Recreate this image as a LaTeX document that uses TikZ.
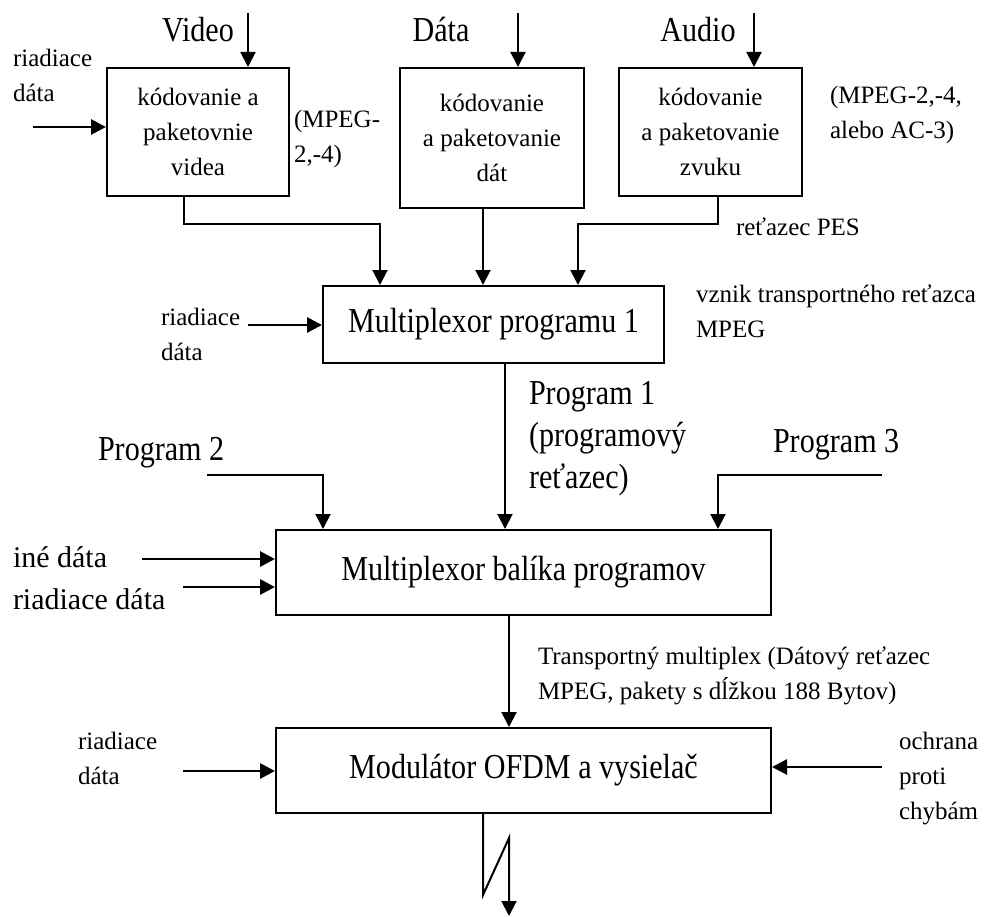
\documentclass[tikz,border=0pt]{standalone}
\usepackage{fontspec}
\setmainfont{Liberation Serif}
\newfontfamily\uzke[FakeStretch=0.86]{Liberation Serif}
\usetikzlibrary{arrows.meta}
\newcommand{\mala}{\fontsize{25}{35}\selectfont}
\newcommand{\velka}{\fontsize{30}{42}\selectfont}
\newcommand{\velkauzka}{\uzke\fontsize{35}{42}\selectfont}

\begin{document}
\begin{tikzpicture}[x=1pt,y=-1pt,line width=2pt,>={Triangle[length=15pt,width=15pt]},
  blok/.style={draw,inner sep=0pt,align=center},
  popis/.style={inner sep=0pt,align=left,anchor=west}]
\useasboundingbox (0,0) rectangle (984,917);
% \draw[help lines] (0,0) grid[step=100] (984,917);
\node (kv) [blok,minimum width=182pt,minimum height=128pt,font=\mala] at (198,132) {kódovanie a\\paketovnie\\videa};
\node (kd) [blok,minimum width=184pt,minimum height=140pt,font=\mala] at (492,138) {kódovanie\\a paketovanie\\dát};
\node (ka) [blok,minimum width=183pt,minimum height=128pt,font=\mala] at (710.5,132) {kódovanie\\a paketovanie\\zvuku};
\node (mp1) [blok,minimum width=341pt,minimum height=77pt,font=\velkauzka] at (493.5,324.5) {Multiplexor programu 1};
\node (mpb) [blok,minimum width=495pt,minimum height=85pt,font=\velkauzka] at (523.5,572.5) {Multiplexor balíka programov};
\node (mod) [blok,minimum width=495pt,minimum height=85pt,font=\velkauzka] at (523.5,770.5) {Modulátor OFDM a vysielač};
%
\node (tv) [font=\velkauzka] at (198,30) {Video};
\node (td) [font=\velkauzka] at (441,30) {Dáta};
\node (ta) [font=\velkauzka] at (698,30) {Audio};
\node (r1) [popis,font=\mala] at (12,75) {riadiace\\dáta};
\node (m1) [popis,font=\mala] at (293,139) {(MPEG-\\2,-4)};
\node (m2) [popis,font=\mala] at (829,115) {(MPEG-2,-4,\\alebo AC-3)};
\node (pes) [popis,font=\mala] at (735,227) {reťazec PES};
\node (r2) [popis,font=\mala] at (160,334) {riadiace\\dáta};
\node (vz) [popis,font=\mala] at (695,311) {vznik transportného reťazca\\MPEG};
\node (pr1) [popis,font=\velkauzka] at (528,439) {Program 1\\(programový\\reťazec)};
\node (pr2) [popis,font=\velkauzka] at (97,453) {Program 2};
\node (pr3) [popis,font=\velkauzka] at (772,445) {Program 3};
\node (ine) [popis,font=\velka] at (12,557) {iné dáta};
\node (r3) [popis,font=\velka] at (12,599) {riadiace dáta};
\node (ts) [popis,font=\mala] at (537,676) {Transportný multiplex (Dátový reťazec\\MPEG, pakety s dĺžkou 188 Bytov)};
\node (r4) [popis,font=\mala] at (77,758) {riadiace\\dáta};
\node (och) [popis,font=\mala] at (898,779) {ochrana\\proti\\chybám};
%
\coordinate (vin) at (248,13);
\coordinate (din) at (518,13);
\coordinate (ain) at (754,13);
\coordinate (c1) at (33,127);
\coordinate (c2) at (248,325);
\coordinate (c3) at (142,559);
\coordinate (c4) at (183,587);
\coordinate (c5) at (183,771);
\coordinate (c6) at (882,767);
\coordinate (b1) at (184,224);
\coordinate (b2) at (380,224);
\coordinate (b3) at (718,224);
\coordinate (b4) at (578,224);
\coordinate (b5) at (483,0);
\coordinate (p1) at (505,0);
\coordinate (p2) at (509,0);
\coordinate (p2in) at (207,475);
\coordinate (p2k) at (323,0);
\coordinate (p3in) at (882,475);
\coordinate (p3k) at (718,0);
\coordinate (o1) at (483,895);
\coordinate (o2) at (509,838);
\coordinate (o3) at (509,916);
%
\path[->]
(vin) edge (vin |- kv.north)
(din) edge (din |- kd.north)
(ain) edge (ain |- ka.north)
(b5 |- kd.south) edge (b5 |- mp1.north)
(p1 |- mp1.south) edge (p1 |- mpb.north)
(p2 |- mpb.south) edge (p2 |- mod.north)
;
\path[->,line width=2.8pt]
(c1) edge (c1 -| kv.west)
(c2) edge (c2 -| mp1.west)
(c3) edge (c3 -| mpb.west)
(c4) edge (c4 -| mpb.west)
(c5) edge (c5 -| mod.west)
(c6) edge (c6 -| mod.east)
;
\draw[->] (b1 |- kv.south) -- (b1) -- (b2) -- (b2 |- mp1.north);
\draw[->] (b3 |- ka.south) -- (b3) -- (b4) -- (b4 |- mp1.north);
\draw[->] (p2in) -| (p2k |- mpb.north);
\draw[->] (p3in) -| (p3k |- mpb.north);
\draw[->] (o1 |- mod.south) -- (o1) -- (o2) -- (o3);
\end{tikzpicture}
\end{document}
